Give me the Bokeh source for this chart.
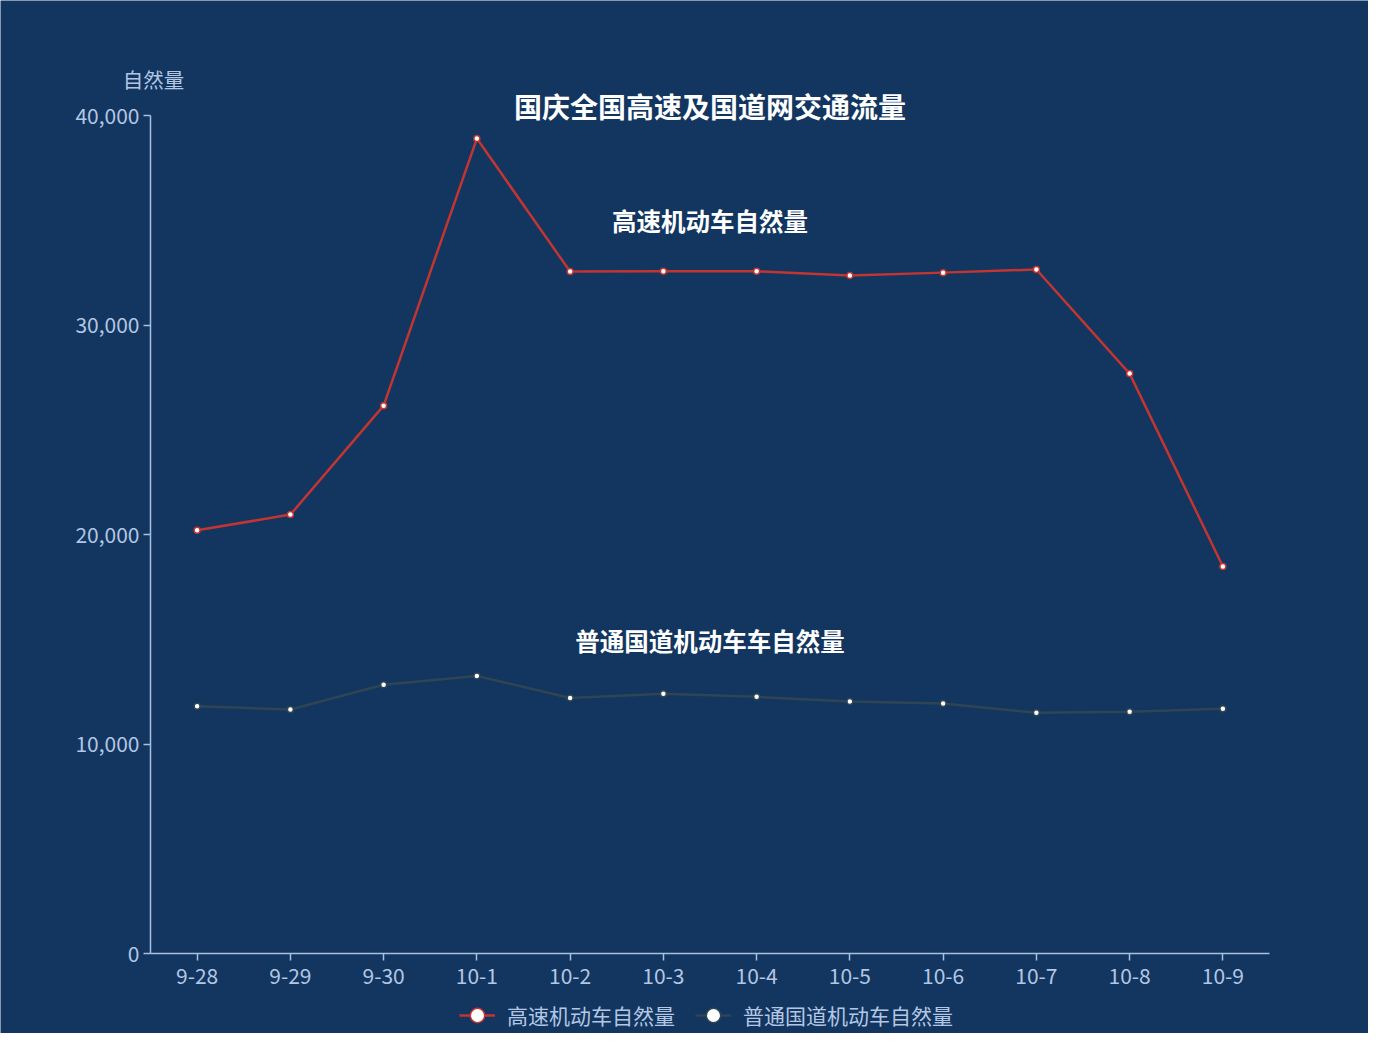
from bokeh.plotting import figure
from bokeh.models import Range1d, FixedTicker, NumeralTickFormatter, Label, Legend, LegendItem
from bokeh.embed import file_html
from bokeh.resources import INLINE

dates = ["9-28", "9-29", "9-30", "10-1", "10-2", "10-3", "10-4", "10-5", "10-6", "10-7", "10-8", "10-9"]
highway = [20200, 20950, 26150, 38900, 32550, 32560, 32560, 32360, 32500, 32650, 27680, 18470]
national = [11800, 11650, 12830, 13250, 12200, 12400, 12250, 12030, 11930, 11490, 11540, 11680]
y_ticks = [0, 10000, 20000, 30000, 40000]

chart_title = "国庆全国高速及国道网交通流量"
y_name = "自然量"
name_highway = "高速机动车自然量"
name_national = "普通国道机动车自然量"
note_highway = "高速机动车自然量"
note_national = "普通国道机动车车自然量"

BG = "#12365f"
AXIS = "#a9bfe0"
LABEL = "#b3c6e4"
FONT = "Noto Sans CJK SC"
RED = "#c23531"
GRAY = "#2f4554"

W, H = 1368, 1033
X0, Y0 = 150, 953            # pixel position of the axes origin
XS = 93.25                   # px per category
YS = 838 / 40000             # px per unit

# category slots: centre of slot i is at i + 0.5 (boundary gap like the original)
xc = [i + 0.5 for i in range(len(dates))]

p = figure(width=W, height=H,
           x_range=Range1d(-X0 / XS, (W - X0) / XS),
           y_range=Range1d(-(H - Y0) / YS, Y0 / YS),
           output_backend="svg", toolbar_location=None,
           min_border_left=0, min_border_right=0, min_border_top=0, min_border_bottom=0)
p.background_fill_color = BG
p.border_fill_color = BG
p.outline_line_color = None
p.xgrid.visible = False
p.ygrid.visible = False

for ax in (p.xaxis[0], p.yaxis[0]):
    ax.axis_line_color = AXIS
    ax.axis_line_width = 1.5
    ax.major_tick_line_color = AXIS
    ax.major_tick_line_width = 1.5
    ax.major_tick_out = 7
    ax.major_tick_in = 0
    ax.minor_tick_line_color = None
    ax.major_label_text_color = LABEL
    ax.major_label_text_font = FONT
    ax.major_label_text_font_size = "21px"
    ax.fixed_location = 0

p.xaxis.ticker = FixedTicker(ticks=xc)
p.xaxis.major_label_overrides = {x: d for x, d in zip(xc, dates)}
p.xaxis.bounds = (0, len(dates))
p.xaxis.major_label_standoff = 7
p.yaxis.major_label_standoff = 4
p.yaxis.ticker = FixedTicker(ticks=y_ticks)
p.yaxis.formatter = NumeralTickFormatter(format="0,0")
p.yaxis.bounds = (0, 40000)

l1 = p.line(xc, highway, line_color=RED, line_width=2.5)
s1 = p.scatter(xc, highway, size=6, marker="circle", fill_color="white", line_color=RED, line_width=1.5)
l2 = p.line(xc, national, line_color=GRAY, line_width=2.5)
s2 = p.scatter(xc, national, size=6, marker="circle", fill_color="white", line_color=GRAY, line_width=1.5)

mid = len(dates) / 2
p.add_layout(Label(x=mid, y=(Y0 - 105) / YS, text=chart_title, text_align="center", text_baseline="middle",
                   text_color="white", text_font=FONT, text_font_size="28px", text_font_style="bold"))
p.add_layout(Label(x=mid, y=35000, text=note_highway, text_align="center", text_baseline="middle",
                   text_color="white", text_font=FONT, text_font_size="24.5px", text_font_style="bold"))
p.add_layout(Label(x=mid, y=14950, text=note_national, text_align="center", text_baseline="middle",
                   text_color="white", text_font=FONT, text_font_size="24.5px", text_font_style="bold"))
p.add_layout(Label(x=3 / XS, y=(Y0 - 78) / YS, text=y_name, text_align="center", text_baseline="middle",
                   text_color=LABEL, text_font=FONT, text_font_size="20.5px"))

legend = Legend(items=[LegendItem(label=name_highway, renderers=[l1, s1]),
                       LegendItem(label=name_national, renderers=[l2, s2])],
                orientation="horizontal", location=(459, 0),
                background_fill_alpha=0, border_line_color=None,
                label_text_color=LABEL, label_text_font=FONT, label_text_font_size="21px",
                glyph_width=36, glyph_height=36, spacing=20, label_standoff=12,
                padding=0, margin=0)
p.add_layout(legend, "center")

open("out.html", "w").write(file_html(p, INLINE))
